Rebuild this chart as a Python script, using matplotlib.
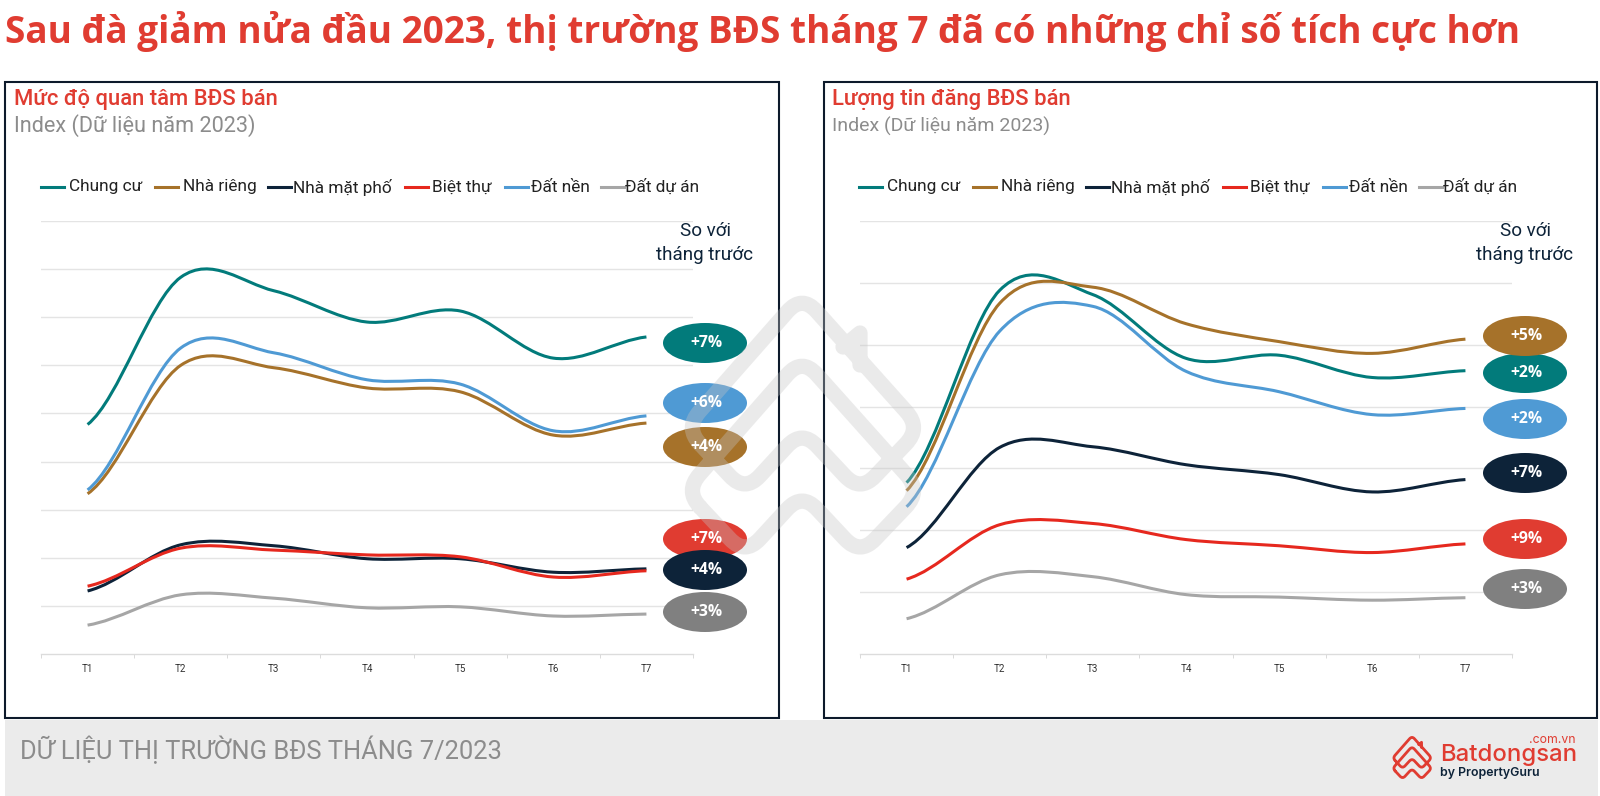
import matplotlib
matplotlib.use("Agg")
import matplotlib.pyplot as plt
from matplotlib.lines import Line2D
from matplotlib.patches import Ellipse, PathPatch, Rectangle
from matplotlib.path import Path

W, H = 1600, 796

TITLE = "Sau đà giảm nửa đầu 2023, thị trường BĐS tháng 7 đã có những chỉ số tích cực hơn"
MONTHS = ["T1", "T2", "T3", "T4", "T5", "T6", "T7"]
NAMES = ["Chung cư", "Nhà riêng", "Nhà mặt phố", "Biệt thự", "Đất nền", "Đất dự án"]
COLORS = ["#027b7b", "#a6722a", "#0d2339", "#e6281e", "#4f9ad4", "#a6a6a6"]
BUBBLE_COLORS = ["#027b7b", "#a6722a", "#0d2339", "#e03c31", "#4f9ad4", "#808080"]

# Index, one list per series, T1..T7
left_chung_cu = [47.7, 78.3, 75.5, 69.0, 71.3, 61.5, 65.9]
left_nha_rieng = [33.3, 60.0, 59.5, 55.3, 54.5, 45.5, 48.0]
left_mat_pho = [13.1, 22.7, 22.5, 19.8, 19.8, 17.0, 17.7]
left_biet_thu = [14.1, 22.0, 21.6, 20.6, 20.2, 16.0, 17.3]
left_dat_nen = [34.1, 63.6, 62.6, 57.0, 56.1, 46.4, 49.5]
left_du_an = [6.0, 12.3, 11.6, 9.6, 9.8, 7.9, 8.3]

right_chung_cu = [27.7, 58.8, 58.1, 47.8, 48.3, 44.7, 45.8]
right_nha_rieng = [26.4, 56.7, 59.3, 53.4, 50.5, 48.6, 50.9]
right_mat_pho = [17.2, 33.4, 33.5, 30.6, 29.0, 26.2, 28.2]
right_biet_thu = [12.1, 20.9, 21.1, 18.5, 17.5, 16.4, 17.8]
right_dat_nen = [23.8, 52.2, 56.2, 45.7, 42.4, 38.7, 39.7]
right_du_an = [5.7, 12.8, 12.5, 9.6, 9.2, 8.7, 9.1]

left_series = [left_chung_cu, left_nha_rieng, left_mat_pho, left_biet_thu, left_dat_nen, left_du_an]
right_series = [right_chung_cu, right_nha_rieng, right_mat_pho, right_biet_thu, right_dat_nen, right_du_an]

left_labels = ["+7%", "+4%", "+4%", "+7%", "+6%", "+3%"]
right_labels = ["+2%", "+5%", "+7%", "+9%", "+2%", "+3%"]

# Bubble centres in figure pixels, same order as the series
left_bubble_y = [343, 447, 570, 539, 403, 612]
right_bubble_y = [373, 336, 473, 539, 419, 589]
left_bubble_order = [0, 4, 1, 3, 2, 5]
right_bubble_order = [0, 1, 4, 2, 3, 5]

legend_handle_x = [41, 155, 268, 405, 505, 601]
legend_text_x = [69, 183, 293, 432, 531, 625]


def smooth_path(xs, ys):
    # same kind of smoothing a spreadsheet line gets
    verts = [(xs[0], ys[0])]
    codes = [Path.MOVETO]
    n = len(xs)
    for i in range(n - 1):
        y_prev = ys[max(i - 1, 0)]
        y_next = ys[min(i + 2, n - 1)]
        dx = xs[i + 1] - xs[i]
        verts.append((xs[i] + dx / 3, ys[i] + (ys[i + 1] - y_prev) / 6))
        verts.append((xs[i + 1] - dx / 3, ys[i + 1] - (y_next - ys[i]) / 6))
        verts.append((xs[i + 1], ys[i + 1]))
        codes += [Path.CURVE4, Path.CURVE4, Path.CURVE4]
    return Path(verts, codes)


def rounded(points, radius):
    # closed polygon with quadratic corners
    verts, codes = [], []
    n = len(points)
    for i in range(n):
        px, py = points[i - 1]
        cx, cy = points[i]
        nx, ny = points[(i + 1) % n]
        d1 = ((cx - px) ** 2 + (cy - py) ** 2) ** 0.5
        d2 = ((cx - nx) ** 2 + (cy - ny) ** 2) ** 0.5
        a = (cx + (px - cx) * radius / d1, cy + (py - cy) * radius / d1)
        b = (cx + (nx - cx) * radius / d2, cy + (ny - cy) * radius / d2)
        verts += [a, (cx, cy), b]
        codes += [Path.MOVETO if i == 0 else Path.LINETO, Path.CURVE3, Path.CURVE3]
    verts.append(verts[0])
    codes.append(Path.LINETO)
    return verts, codes


def logo_path(x0, y0, s):
    # coordinates measured on the big watermark, origin at its top left
    house = [(-8, 121), (109, -12), (228, 121), (167, 185), (109, 123), (52, 185)]
    verts, codes = [], []
    for dy in (0, 63):
        pts = [(x0 + s * px, y0 + s * (py + dy)) for px, py in house]
        v, c = rounded(pts, 22 * s)
        verts += v
        codes += c
    # chimney
    verts += [(x0 + s * 150, y0 + s * 40), (x0 + s * 167, y0 + s * 26), (x0 + s * 167, y0 + s * 58)]
    codes += [Path.MOVETO, Path.LINETO, Path.LINETO]
    return Path(verts, codes)


def draw_chart(fig, rect_px, series, y_max):
    x0, x1, y0, y1 = rect_px
    ax = fig.add_axes([x0 / W, 1 - y1 / H, (x1 - x0) / W, (y1 - y0) / H])
    ax.patch.set_alpha(0)
    ax.set_xlim(0, len(MONTHS))
    ax.set_ylim(0, y_max)
    xs = [i + 0.5 for i in range(len(MONTHS))]
    ax.set_xticks(xs)
    ax.set_xticklabels(MONTHS, fontsize=7, color="#333333", family="Roboto")
    ax.set_xticks(range(len(MONTHS) + 1), minor=True)
    ax.tick_params(axis="x", which="major", length=0, pad=7)
    ax.tick_params(axis="x", which="minor", length=3, width=0.7, color="#d9d9d9")
    ax.set_yticks(range(10, y_max + 1, 10))
    ax.tick_params(axis="y", length=0, labelleft=False)
    ax.grid(axis="y", color="#e4e4e4", linewidth=1.0)
    ax.set_axisbelow(True)
    for name in ("top", "left", "right"):
        ax.spines[name].set_visible(False)
    ax.spines["bottom"].set_color("#dcdcdc")
    ax.spines["bottom"].set_linewidth(1.0)
    for vals, color in zip(series, COLORS):
        ax.add_patch(PathPatch(smooth_path(xs, vals), fill=False, edgecolor=color,
                               linewidth=2.2, capstyle="butt", clip_on=False))
    return ax


def draw_panel(ov, dx, bubble_x, title, sub_size, frame, labels, bubble_y, order):
    fx0, fx1 = frame
    ov.add_patch(Rectangle((fx0, 82), fx1 - fx0, 636, fill=False, edgecolor="#0d1a2b", linewidth=1.5))
    ov.text(14 + dx, 99, title, fontsize=15.8, color="#e03c31", family="Roboto", weight="medium", va="center")
    ov.text(14 + dx, 126, "Index (Dữ liệu năm 2023)", fontsize=sub_size, color="#8c8c8c", family="Roboto", va="center")
    for hx, tx, name, color in zip(legend_handle_x, legend_text_x, NAMES, COLORS):
        ov.add_line(Line2D([hx + dx, hx + dx + 23], [187, 187], color=color, linewidth=2.2))
        ov.text(tx + dx, 187, name, fontsize=12.4, color="#222222", family="Roboto", va="center")
    ov.text(bubble_x, 231, "So với", fontsize=13.6, color="#0d2339", family="Roboto", ha="center", va="center")
    ov.text(bubble_x, 255, "tháng trước", fontsize=13.6, color="#0d2339", family="Roboto", ha="center", va="center")
    for i in order:
        ov.add_patch(Ellipse((bubble_x, bubble_y[i]), 84, 40, facecolor=BUBBLE_COLORS[i], edgecolor="none"))
        ov.text(bubble_x + 1, bubble_y[i], labels[i], fontsize=11.3, color="white", family="Open Sans",
                weight="bold", ha="center", va="center")


def main():
    fig = plt.figure(figsize=(W / 100, H / 100), dpi=100, facecolor="white")

    draw_chart(fig, (41, 693, 221, 654), left_series, 90)
    draw_chart(fig, (860, 1512, 221, 654), right_series, 70)

    # everything else sits on a pixel-sized overlay
    ov = fig.add_axes([0, 0, 1, 1], zorder=5)
    ov.set_xlim(0, W)
    ov.set_ylim(H, 0)
    ov.axis("off")

    ov.text(5, 31, TITLE, fontsize=26.6, color="#e03c31", family="Open Sans", weight="bold", va="center")

    draw_panel(ov, 0, 705, "Mức độ quan tâm BĐS bán", 15.6, (5, 779), left_labels, left_bubble_y, left_bubble_order)
    draw_panel(ov, 818, 1525, "Lượng tin đăng BĐS bán", 14.0, (824, 1597), right_labels, right_bubble_y, right_bubble_order)

    ov.add_patch(Rectangle((5, 720), 1593, 76, facecolor="#ebebeb", edgecolor="none"))
    ov.text(20, 750, "DỮ LIỆU THỊ TRƯỜNG BĐS THÁNG 7/2023", fontsize=18.4, color="#8c8c8c",
            family="Roboto", va="center")

    ov.add_patch(PathPatch(logo_path(1394, 738, 0.165), fill=False, edgecolor="#e03c31", linewidth=2.0,
                           capstyle="round", joinstyle="round"))
    ov.text(1440, 761, "Batdongsan", fontsize=17.2, color="#e03c31", family="Inter", weight="medium", va="baseline")
    ov.text(1575, 743, ".com.vn", fontsize=8.8, color="#e03c31", family="Inter", ha="right", va="baseline")
    ov.text(1440, 773, "by PropertyGuru", fontsize=8.9, color="#0d2339", family="Inter", weight="semibold", va="center")

    # big watermark over the charts
    ov.add_patch(PathPatch(logo_path(693, 307, 1.0), fill=False, edgecolor="#c5c5c5", alpha=0.35,
                           linewidth=11, capstyle="round", joinstyle="round"))

    fig.savefig("out.png", dpi=100, facecolor="white")
    plt.close(fig)


if __name__ == "__main__":
    main()
